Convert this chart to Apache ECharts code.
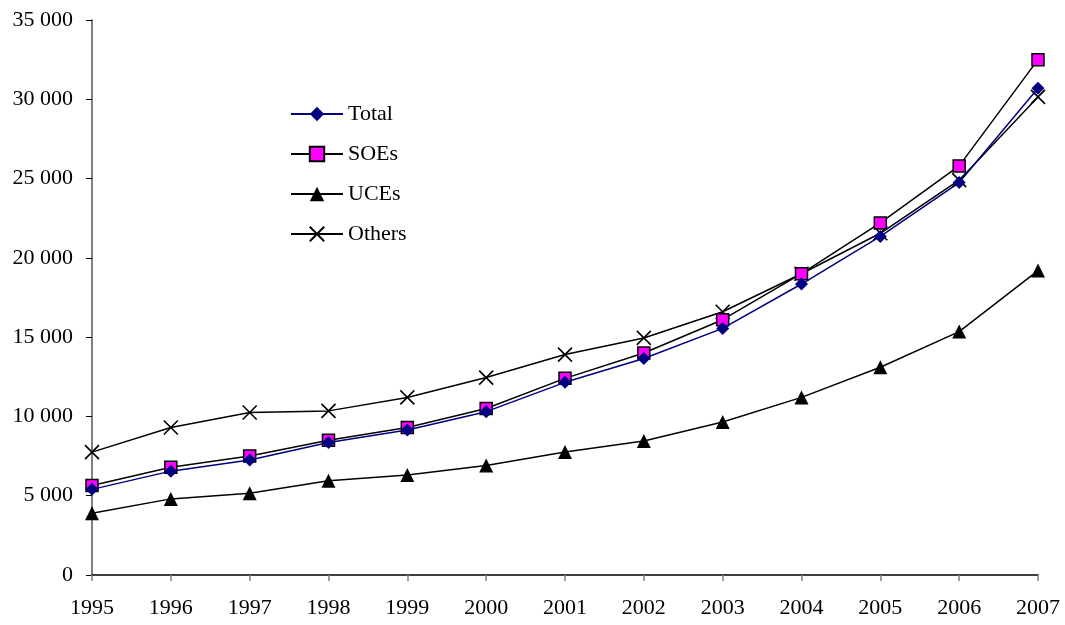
<!DOCTYPE html>
<html><head><meta charset="utf-8">
<script src="https://cdn.jsdelivr.net/npm/echarts@6/dist/echarts.min.js"></script>
<style>html,body{margin:0;padding:0;background:#fff}#c{width:1065px;height:625px}</style>
</head><body><div id="c"></div>
<script>
var years = ['1995','1996','1997','1998','1999','2000','2001','2002','2003','2004','2005','2006','2007'];
var total = [5400, 6550, 7250, 8350, 9150, 10300, 12150, 13650, 15550, 18350, 21350, 24750, 30700];
var soes = [5650, 6800, 7500, 8500, 9300, 10500, 12400, 14000, 16100, 19000, 22200, 25800, 32500];
var uces = [3900, 4800, 5150, 5950, 6300, 6900, 7750, 8450, 9650, 11200, 13100, 15350, 19200];
var others = [7750, 9300, 10250, 10350, 11200, 12450, 13900, 14950, 16600, 19000, 21550, 24900, 30150];

var font = '"Liberation Serif", "Times New Roman", serif';
var chart = echarts.init(document.getElementById('c'), null, {renderer: 'canvas'});
chart.setOption({
  animation: false,
  textStyle: {fontFamily: font},
  grid: {left: 92, right: 27, top: 20, bottom: 50, containLabel: false},
  legend: {
    orient: 'vertical', left: 285, top: 98, itemGap: 18, itemWidth: 52, itemHeight: 18,
    data: ['Total', 'SOEs', 'UCEs', 'Others'],
    textStyle: {fontFamily: font, fontSize: 22, lineHeight: 22, color: '#000'}
  },
  xAxis: {
    type: 'category', data: years, boundaryGap: false,
    axisLine: {lineStyle: {color: '#000', width: 1.5}},
    axisTick: {show: true, length: 6, lineStyle: {color: '#808080', width: 1.5}, alignWithLabel: true},
    axisLabel: {fontFamily: font, fontSize: 22, color: '#000', margin: 22}
  },
  yAxis: {
    type: 'value', min: 0, max: 35000, interval: 5000,
    splitLine: {show: false},
    axisLine: {show: true, lineStyle: {color: '#808080', width: 2}},
    axisTick: {show: true, length: 6, lineStyle: {color: '#000', width: 1}},
    axisLabel: {fontFamily: font, fontSize: 22, color: '#000', margin: 19,
      formatter: function(v){ return v === 0 ? '0' : String(v).replace(/\B(?=(\d{3})+(?!\d))/g, ' '); }}
  },
  series: [
    {name: 'Others', type: 'line', data: others, z: 2,
     symbol: 'path://M0,0L10,10M10,0L0,10', symbolSize: 14,
     lineStyle: {color: '#000', width: 1.5},
     itemStyle: {color: 'transparent', borderColor: '#000', borderWidth: 1.6}},
    {name: 'SOEs', type: 'line', data: soes, z: 3,
     symbol: 'rect', symbolSize: 12,
     lineStyle: {color: '#000', width: 1.5},
     itemStyle: {color: '#ff00ff', borderColor: '#000', borderWidth: 1.5}},
    {name: 'Total', type: 'line', data: total, z: 4,
     symbol: 'diamond', symbolSize: 13,
     lineStyle: {color: '#000080', width: 1.5},
     itemStyle: {color: '#000080', borderColor: '#000080', borderWidth: 0}},
    {name: 'UCEs', type: 'line', data: uces, z: 5,
     symbol: 'triangle', symbolSize: 14,
     lineStyle: {color: '#000', width: 1.5},
     itemStyle: {color: '#000', borderColor: '#000', borderWidth: 0}}
  ]
});
</script></body></html>
